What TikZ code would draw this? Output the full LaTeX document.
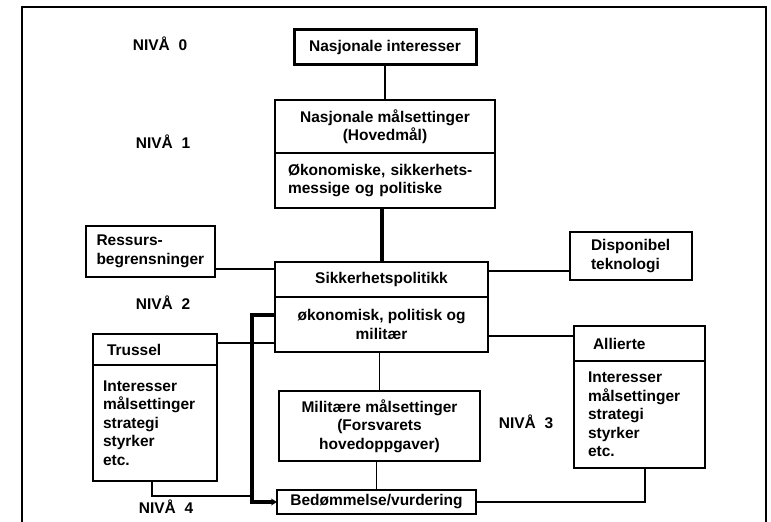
\documentclass[tikz,border=0pt]{standalone}
\usepackage{fontspec}
\setmainfont{Liberation Sans}
\usetikzlibrary{arrows.meta, positioning}
\newcommand\diafont{\fontsize{15.5}{18.5}\selectfont\bfseries}

\begin{document}
\begin{tikzpicture}[
    x=1pt, y=-1pt,
    box/.style={
      draw, line width=1.6pt, inner sep=0pt, outer sep=0pt,
      font=\diafont, align=center
    },
    keybox/.style={box, line width=3pt},
    listbox/.style={box, align=left},
    link/.style={line width=1.6pt},
    heavy/.style={line width=4pt},
    level/.style={font=\diafont},
  ]
    \useasboundingbox (0,0) rectangle (771,522);

    % Frame
    \draw[line width=2pt] (22,522) -- (22,7) -- (766,7) -- (766,522);

    % Levels
    \node[level] (lvl0) at (160,44) {NIVÅ\ \ 0};
    \node[level] (lvl1) at (163,142) {NIVÅ\ \ 1};
    \node[level] (lvl2) at (163,303) {NIVÅ\ \ 2};
    \node[level] (lvl3) at (526,422) {NIVÅ\ \ 3};
    \node[level] (lvl4) at (166,507) {NIVÅ\ \ 4};

    % Main column
    \node[keybox, minimum width=182pt, minimum height=35pt]
      (natint) at (385,47) {Nasjonale interesser};
    \node[box, minimum width=220pt, minimum height=53pt]
      (nmaal) at (385,126.5) {Nasjonale målsettinger\\(Hovedmål)};
    \node[listbox, minimum width=220pt, minimum height=55pt, text width=194pt,
      below=0pt of nmaal] (nmaalsub) {Økonomiske, sikkerhets-\\messige og politiske};

    \node[box, minimum width=213pt, minimum height=35pt]
      (sikk) at (381.5,279.5) {Sikkerhetspolitikk};
    \node[box, minimum width=213pt, minimum height=55pt, below=0pt of sikk]
      (sikksub) {økonomisk, politisk og\\militær};

    \node[box, minimum width=201pt, minimum height=70pt]
      (milit) at (379.5,426) {Militære målsettinger\\(Forsvarets\\hovedoppgaver)};
    \node[box, minimum width=199pt, minimum height=24pt]
      (bedom) at (376.5,502) {Bedømmelse/vurdering};

    % Side factors
    \node[listbox, minimum width=129pt, minimum height=51pt, text width=108pt]
      (ressurs) at (150.5,251.5) {Ressurs-\\begrensninger};
    \node[listbox, minimum width=122pt, minimum height=48pt, text width=80pt]
      (dispon) at (631,256) {Disponibel\\teknologi};

    % Threat and allies
    \node[listbox, minimum width=124pt, minimum height=31pt, text width=96pt]
      (trussel) at (155,349.5) {Trussel};
    \node[listbox, minimum width=124pt, minimum height=116pt, text width=104pt,
      below=0pt of trussel] (trusselsub)
      {Interesser\\målsettinger\\strategi\\styrker\\etc.};
    \node[listbox, minimum width=131pt, minimum height=35pt, text width=93pt]
      (allierte) at (639.5,343.5) {Allierte};
    \node[listbox, minimum width=131pt, minimum height=107pt, text width=103pt,
      below=0pt of allierte] (alliertesub)
      {Interesser\\målsettinger\\strategi\\styrker\\etc.};

    % Junction points
    \coordinate (ressJ) at ([yshift=-17.5pt]ressurs.east);
    \coordinate (dispJ) at ([yshift=-15pt]dispon.west);
    \coordinate (trusJ) at ([yshift=6.5pt]trussel.east);
    \coordinate (alliJ) at ([yshift=7.5pt]allierte.west);
    \coordinate (fbJ) at ([yshift=9.5pt]sikksub.west);
    \coordinate (fbk) at ([xshift=-23pt]fbJ);
    \coordinate (bedJ) at ([yshift=6pt]bedom.west);

    % Connectors
    \draw[link] (natint) -- (nmaal);
    \draw[heavy] (nmaalsub.south -| sikk.north) -- (sikk.north);
    \draw[link] (ressJ) -- (ressJ -| sikk.west);
    \draw[link] (dispJ -| sikk.east) -- (dispJ);
    \draw[link] (trusJ) -- (trusJ -| sikksub.west);
    \draw[link] (alliJ -| sikksub.east) -- (alliJ);
    \draw[link] (milit.north |- sikksub.south) -- (milit.north);
    \draw[link] (milit.south -| bedom.north) -- (bedom.north);
    \draw[link] (bedom.east) -| ([xshift=5.5pt]alliertesub.south);
    \draw[link] ([xshift=-3pt]trusselsub.south) |- (bedJ -| fbk);
    \draw[heavy, -{Stealth[length=6pt, width=7pt]}]
      (fbJ) -- (fbk) |- (bedom.west);
  \end{tikzpicture}
\end{document}
